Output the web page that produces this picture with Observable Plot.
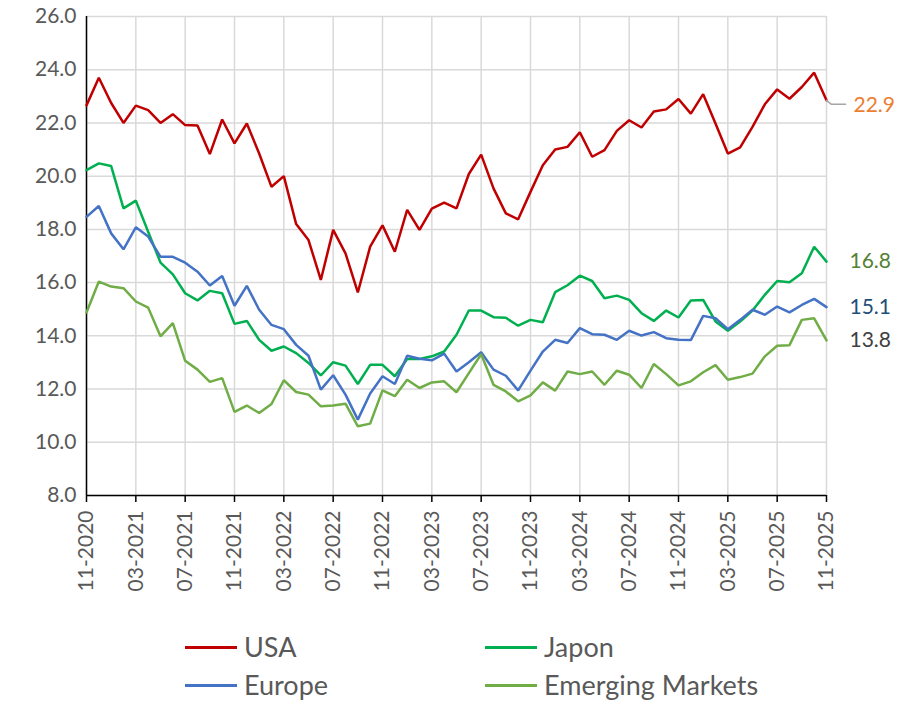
<!DOCTYPE html>
<html><head><meta charset="utf-8">
<script src="https://cdn.jsdelivr.net/npm/d3@7"></script>
<script src="https://cdn.jsdelivr.net/npm/@observablehq/plot@0.6"></script>
<style>
body{margin:0;background:#fff;font-family:Lato,"Open Sans",sans-serif;}
#wrap{position:relative;width:918px;height:702px;background:#fff;overflow:hidden;}
#chart{position:absolute;left:0;top:0;}
.leg{position:absolute;display:flex;align-items:center;font-size:27px;color:#595959;line-height:34px;white-space:nowrap;}
.leg .sw{display:inline-block;width:52px;height:3px;margin-right:7px;}
</style></head><body>
<div id="wrap"><div id="chart"></div></div>
<script>
const seriesNames = ["USA", "Japon", "Europe", "Emerging Markets"];
const seriesColors = ["#C00000", "#00B050", "#4472C4", "#70AD47"];
const labelColors = ["#ED7D31", "#548235", "#1F4E79", "#404040"];

const usa = [22.66,23.70,22.75,22.00,22.65,22.48,22.00,22.33,21.92,21.90,20.83,22.13,21.23,21.98,20.85,19.60,20.00,18.20,17.60,16.10,17.98,17.10,15.63,17.35,18.15,17.16,18.73,17.98,18.78,19.01,18.79,20.08,20.81,19.54,18.60,18.38,19.41,20.41,21.00,21.10,21.65,20.73,20.98,21.70,22.10,21.83,22.43,22.51,22.90,22.35,23.08,21.98,20.85,21.08,21.85,22.70,23.26,22.91,23.35,23.89,22.85];
const japon = [20.23,20.48,20.38,18.79,19.08,17.91,16.75,16.31,15.60,15.33,15.69,15.60,14.45,14.56,13.85,13.44,13.60,13.35,12.98,12.51,13.01,12.88,12.19,12.91,12.91,12.48,13.13,13.13,13.23,13.41,14.04,14.95,14.95,14.70,14.68,14.38,14.60,14.51,15.64,15.90,16.26,16.06,15.41,15.51,15.35,14.85,14.56,14.95,14.69,15.33,15.35,14.54,14.19,14.54,14.95,15.54,16.06,16.01,16.35,17.35,16.79];
const europe = [18.47,18.88,17.85,17.25,18.08,17.73,16.97,16.97,16.75,16.41,15.89,16.25,15.13,15.88,14.98,14.41,14.25,13.66,13.25,11.98,12.52,11.79,10.85,11.83,12.48,12.19,13.25,13.14,13.08,13.33,12.66,13.01,13.38,12.73,12.50,11.95,12.69,13.41,13.85,13.73,14.29,14.06,14.04,13.85,14.19,14.01,14.14,13.91,13.85,13.84,14.75,14.66,14.25,14.60,14.98,14.79,15.10,14.88,15.16,15.39,15.08];
const emerging = [14.88,16.04,15.85,15.79,15.29,15.06,13.98,14.48,13.06,12.73,12.27,12.41,11.14,11.38,11.10,11.44,12.33,11.89,11.79,11.35,11.38,11.45,10.60,10.70,11.95,11.73,12.35,12.04,12.25,12.29,11.88,12.60,13.31,12.16,11.91,11.54,11.76,12.25,11.94,12.66,12.56,12.66,12.16,12.69,12.54,12.04,12.94,12.56,12.14,12.29,12.63,12.90,12.35,12.45,12.58,13.23,13.63,13.65,14.60,14.66,13.83];
const endLabels = ["22.9", "16.8", "15.1", "13.8"];
const yTicks = [8, 10, 12, 14, 16, 18, 20, 22, 24, 26];
const xTickLabels = ["11-2020","03-2021","07-2021","11-2021","03-2022","07-2022","11-2022","03-2023","07-2023","11-2023","03-2024","07-2024","11-2024","03-2025","07-2025","11-2025"];

const allSeries = [usa, japon, europe, emerging];
const rows = [];
allSeries.forEach((arr, s) => arr.forEach((v, i) => rows.push({i, v, series: seriesNames[s]})));
const nLast = usa.length - 1;
const xTicks = xTickLabels.map((_, k) => k * 4);
const lastRows = allSeries.map((arr, s) => ({i: nLast, v: arr[nLast], label: endLabels[s], color: labelColors[s], series: seriesNames[s]}));
// leader line for the USA label (label placed slightly below the last point)
const usaLast = usa[nLast];
const leader = [{i: nLast, v: usaLast}, {i: nLast + 0.4, v: usaLast - 0.15}, {i: nLast + 1.55, v: usaLast - 0.15}];

const chart = Plot.plot({
  width: 918, height: 615,
  marginTop: 16, marginLeft: 86, marginRight: 92, marginBottom: 120,
  style: {fontFamily: "Lato, 'Open Sans', sans-serif", fontSize: "21px", color: "#595959", background: "white", overflow: "visible"},
  x: {type: "linear", domain: [0, nLast]},
  y: {domain: [8, 26]},
  color: {domain: seriesNames, range: seriesColors},
  marks: [
    Plot.gridX(xTicks, {stroke: "#D9D9D9", strokeOpacity: 1, strokeWidth: 1.5}),
    Plot.gridY(yTicks, {stroke: "#D9D9D9", strokeOpacity: 1, strokeWidth: 1.5}),
    Plot.axisY(yTicks, {tickSize: 0, tickPadding: 10, tickFormat: d => d.toFixed(1), label: null, fill: "#595959", fontSize: 21}),
    Plot.axisX(xTicks, {tickSize: 7, tickRotate: -90, tickPadding: 8, tickFormat: i => xTickLabels[i / 4], label: null, fill: "#595959", stroke: "black", strokeWidth: 1.5, fontSize: 21}),
    Plot.ruleX([0], {stroke: "black", strokeWidth: 1.5}),
    Plot.ruleY([8], {stroke: "black", strokeWidth: 1.5}),
    Plot.line(rows, {x: "i", y: "v", z: "series", stroke: "series", strokeWidth: 2.5, strokeLinejoin: "miter"}),
    Plot.line(leader, {x: "i", y: "v", stroke: "#A6A6A6", strokeWidth: 1.5}),
    Plot.text(lastRows.filter(d => d.series !== "USA"), {x: "i", y: "v", text: "label", fill: "color", textAnchor: "start", dx: 23, fontSize: 21}),
    Plot.text(lastRows.filter(d => d.series === "USA"), {x: "i", y: "v", text: "label", fill: "color", textAnchor: "start", dx: 27, dy: 5, fontSize: 21}),
  ]
});
document.getElementById("chart").appendChild(chart);
</script>
<script>
const wrap = document.getElementById("wrap");
const legendPos = [[185, 630], [485, 630], [185, 668], [485, 668]];
seriesNames.forEach((name, s) => {
  const d = document.createElement("div");
  d.className = "leg";
  d.style.left = legendPos[s][0] + "px";
  d.style.top = legendPos[s][1] + "px";
  d.innerHTML = `<span class="sw" style="background:${seriesColors[s]}"></span><span>${name}</span>`;
  wrap.appendChild(d);
});
</script>
</body></html>
